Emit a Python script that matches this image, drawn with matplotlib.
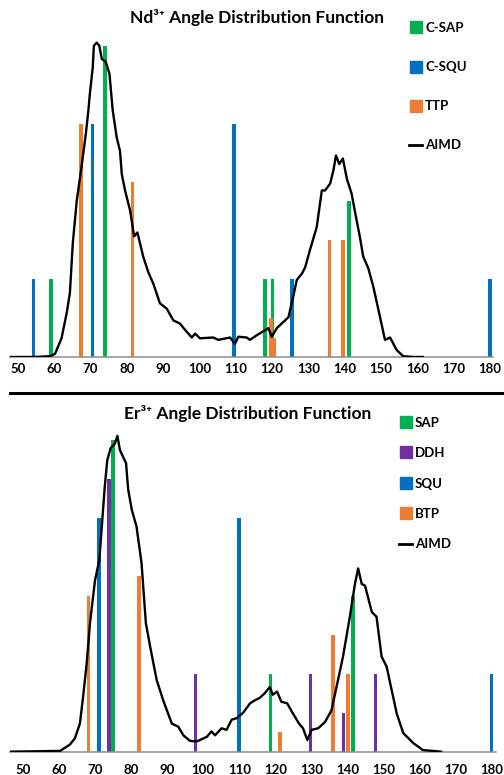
import matplotlib
matplotlib.use("Agg")
import matplotlib.pyplot as plt
from matplotlib.lines import Line2D

plt.rcParams['font.family'] = ['Lato', 'DejaVu Sans']
plt.rcParams['font.weight'] = 'bold'

GREEN = '#00B050'
BLUE = '#0070C0'
ORANGE = '#ED7D31'
PURPLE = '#7030A0'

# ---- Nd3+ reference polyhedra (angle, relative count) ----
nd_csap_ang = [59.1, 74.0, 118.0, 120.1, 141.2]
nd_csap_val = [1, 4, 1, 1, 2]
nd_csqu_ang = [54.3, 70.5, 109.5, 125.5, 180.0]
nd_csqu_val = [1, 3, 3, 1, 1]
nd_ttp_ang = [67.4, 81.6, 119.7, 120.6, 135.8, 139.6]
nd_ttp_val = [3, 2.25, 0.5, 0.25, 1.5, 1.5]

# Nd3+ AIMD angle distribution
nd_aimd_ang = [47.8, 54.7, 58.8, 60.2, 62.0, 63.4, 64.3, 65.1, 66.2, 67.5, 68.7, 69.4,
               69.8, 70.6, 70.9, 71.7, 72.4, 73.1, 74.2, 75.2, 76.1, 77.2, 78.1, 78.6,
               79.5, 80.9, 82.0, 82.9, 84.5, 85.9, 87.3, 89.1, 91.0, 92.8, 94.6, 96.0,
               97.9, 98.8, 100.1, 103.8, 105.2, 108.4, 109.8, 110.7, 113.0, 113.9, 115.8,
               117.6, 119.0, 119.9, 121.3, 123.1, 124.5, 125.8, 126.8, 128.2, 129.1,
               130.4, 132.3, 133.7, 134.6, 136.0, 136.9, 137.6, 138.5, 139.5, 140.6,
               141.9, 143.1, 144.2, 145.1, 146.5, 147.9, 149.7, 151.1, 152.5, 154.3,
               156.1, 158.9, 161.5]
nd_aimd_val = [0, 0, 0.01, 0.04, 0.24, 0.56, 0.82, 1.46, 2.01, 2.44, 2.87, 3.17,
               3.38, 3.72, 4.0, 4.04, 4.0, 3.83, 3.79, 3.64, 3.17, 2.82, 2.65, 2.35,
               2.14, 1.88, 1.55, 1.60, 1.29, 1.09, 0.94, 0.69, 0.62, 0.47, 0.43, 0.35,
               0.25, 0.30, 0.24, 0.25, 0.22, 0.25, 0.17, 0.26, 0.25, 0.22, 0.28,
               0.33, 0.37, 0.26, 0.37, 0.45, 0.51, 0.77, 0.99, 1.07, 1.15,
               1.37, 1.67, 2.14, 2.14, 2.23, 2.40, 2.59, 2.48, 2.55, 2.29,
               2.10, 1.80, 1.54, 1.29, 1.14, 0.90, 0.52, 0.22, 0.25, 0.09,
               0.01, 0, 0]

# ---- Er3+ reference polyhedra ----
er_sap_ang = [74.9, 118.7, 141.6]
er_sap_val = [4, 1, 2]
er_ddh_ang = [73.9, 97.9, 129.8, 138.9, 147.8]
er_ddh_val = [3.5, 1, 1, 0.5, 1]
er_squ_ang = [71.1, 110.0, 180.0]
er_squ_val = [3, 3, 1]
er_btp_ang = [68.2, 82.2, 121.3, 136.1, 140.2]
er_btp_val = [2, 2.25, 0.25, 1.5, 1]

# Er3+ AIMD angle distribution
er_aimd_ang = [46.4, 60.3, 63.0, 64.4, 65.8, 66.7, 67.7, 68.6, 70.0, 71.2, 71.8, 72.7,
               73.4, 74.3, 75.5, 76.2, 76.9, 78.6, 79.2, 80.2, 81.5, 82.9, 84.1, 85.4,
               87.1, 88.9, 91.3, 93.1, 94.5, 96.3, 98.2, 101.0, 102.3, 103.3, 105.1,
               106.5, 107.9, 109.3, 111.1, 113.0, 114.4, 115.7, 117.1, 118.5, 119.3,
               120.5, 121.7, 123.3, 124.9, 126.6, 127.7, 128.9, 130.1, 131.9, 133.8,
               135.6, 137.0, 138.8, 140.7, 142.1, 143.0, 144.0, 144.9, 146.8, 148.1,
               149.5, 150.9, 152.3, 153.7, 155.5, 158.3, 161.0, 163.8, 166.0]
er_aimd_val = [0, 0.01, 0.09, 0.17, 0.36, 0.71, 1.14, 1.65, 2.20, 2.46, 2.84, 3.40,
               3.74, 3.89, 3.95, 4.05, 3.87, 3.70, 3.36, 3.10, 2.89, 2.42, 1.65, 1.32,
               0.92, 0.66, 0.36, 0.32, 0.21, 0.14, 0.13, 0.19, 0.26, 0.21, 0.30,
               0.28, 0.41, 0.43, 0.50, 0.62, 0.66, 0.69, 0.75, 0.83, 0.73,
               0.77, 0.64, 0.62, 0.49, 0.36, 0.30, 0.15, 0.28, 0.30, 0.38,
               0.53, 0.83, 1.22, 1.73, 2.15, 2.35, 2.15, 2.13, 1.79, 1.73,
               1.22, 1.09, 0.79, 0.49, 0.24, 0.11, 0.02, 0.01, 0]

ticks = list(range(50, 181, 10))


def style_axis(ax, xlim, pad):
    ax.set_xlim(*xlim)
    ax.set_ylim(0, 4.1)
    for s in ['top', 'right', 'left']:
        ax.spines[s].set_visible(False)
    ax.spines['bottom'].set_color('#8c8c8c')
    ax.spines['bottom'].set_linewidth(1.1)
    ax.set_yticks([])
    ax.set_xticks(ticks)
    ax.tick_params(axis='x', length=0, pad=pad, labelsize=9.5)
    for lab in ax.get_xticklabels():
        lab.set_fontweight('bold')


def square(color):
    return Line2D([], [], color=color, marker='s', markersize=8, linestyle='none')


fig = plt.figure(figsize=(5.04, 7.75), dpi=100)

# top panel: Nd3+
ax1 = fig.add_axes([0.0198, 0.5394, 0.958, 0.4116])
bw = 1.0
ax1.bar(nd_csqu_ang, nd_csqu_val, width=bw, color=BLUE, zorder=2)
ax1.bar(nd_csap_ang, nd_csap_val, width=bw, color=GREEN, zorder=2)
ax1.bar(nd_ttp_ang, nd_ttp_val, width=bw, color=ORANGE, zorder=2)
ax1.plot(nd_aimd_ang, nd_aimd_val, color='black', lw=1.7, zorder=3)
style_axis(ax1, (47.8, 180.8), 4)
fig.text(0.51, 0.977, 'Nd³⁺ Angle Distribution Function', ha='center', va='center',
         fontsize=12.5, fontweight='bold')
fig.legend([square(GREEN), square(BLUE), square(ORANGE), Line2D([], [], color='black', lw=2)],
           ['C-SAP', 'C-SQU', 'TTP', 'AIMD'], loc='upper left',
           bbox_to_anchor=(0.799, 0.98), frameon=False, prop={'weight': 'bold', 'size': 9.5},
           handlelength=1.0, handletextpad=0.2, labelspacing=2.05, borderpad=0)

# separator between the panels
fig.add_artist(Line2D([10 / 504, 1.0], [1 - 393 / 775] * 2, color='black', lw=2.2,
                      transform=fig.transFigure))

# bottom panel: Er3+
ax2 = fig.add_axes([0.0198, 0.0301, 0.964, 0.4125])
ax2.bar(er_btp_ang, er_btp_val, width=bw, color=ORANGE, zorder=2)
ax2.bar(er_squ_ang, er_squ_val, width=bw, color=BLUE, zorder=2)
ax2.bar(er_ddh_ang, er_ddh_val, width=bw, color=PURPLE, zorder=2)
ax2.bar(er_sap_ang, er_sap_val, width=bw, color=GREEN, zorder=2)
ax2.plot(er_aimd_ang, er_aimd_val, color='black', lw=1.7, zorder=3)
style_axis(ax2, (46.4, 181.2), 9)
fig.text(0.492, 1 - 413 / 775, 'Er³⁺ Angle Distribution Function', ha='center', va='center',
         fontsize=12.5, fontweight='bold')
fig.legend([square(GREEN), square(PURPLE), square(BLUE), square(ORANGE),
            Line2D([], [], color='black', lw=2)],
           ['SAP', 'DDH', 'SQU', 'BTP', 'AIMD'], loc='upper left',
           bbox_to_anchor=(0.779, 1 - 410 / 775), frameon=False,
           prop={'weight': 'bold', 'size': 9.5},
           handlelength=1.0, handletextpad=0.2, labelspacing=1.4, borderpad=0)

fig.savefig('out.png', dpi=100)
